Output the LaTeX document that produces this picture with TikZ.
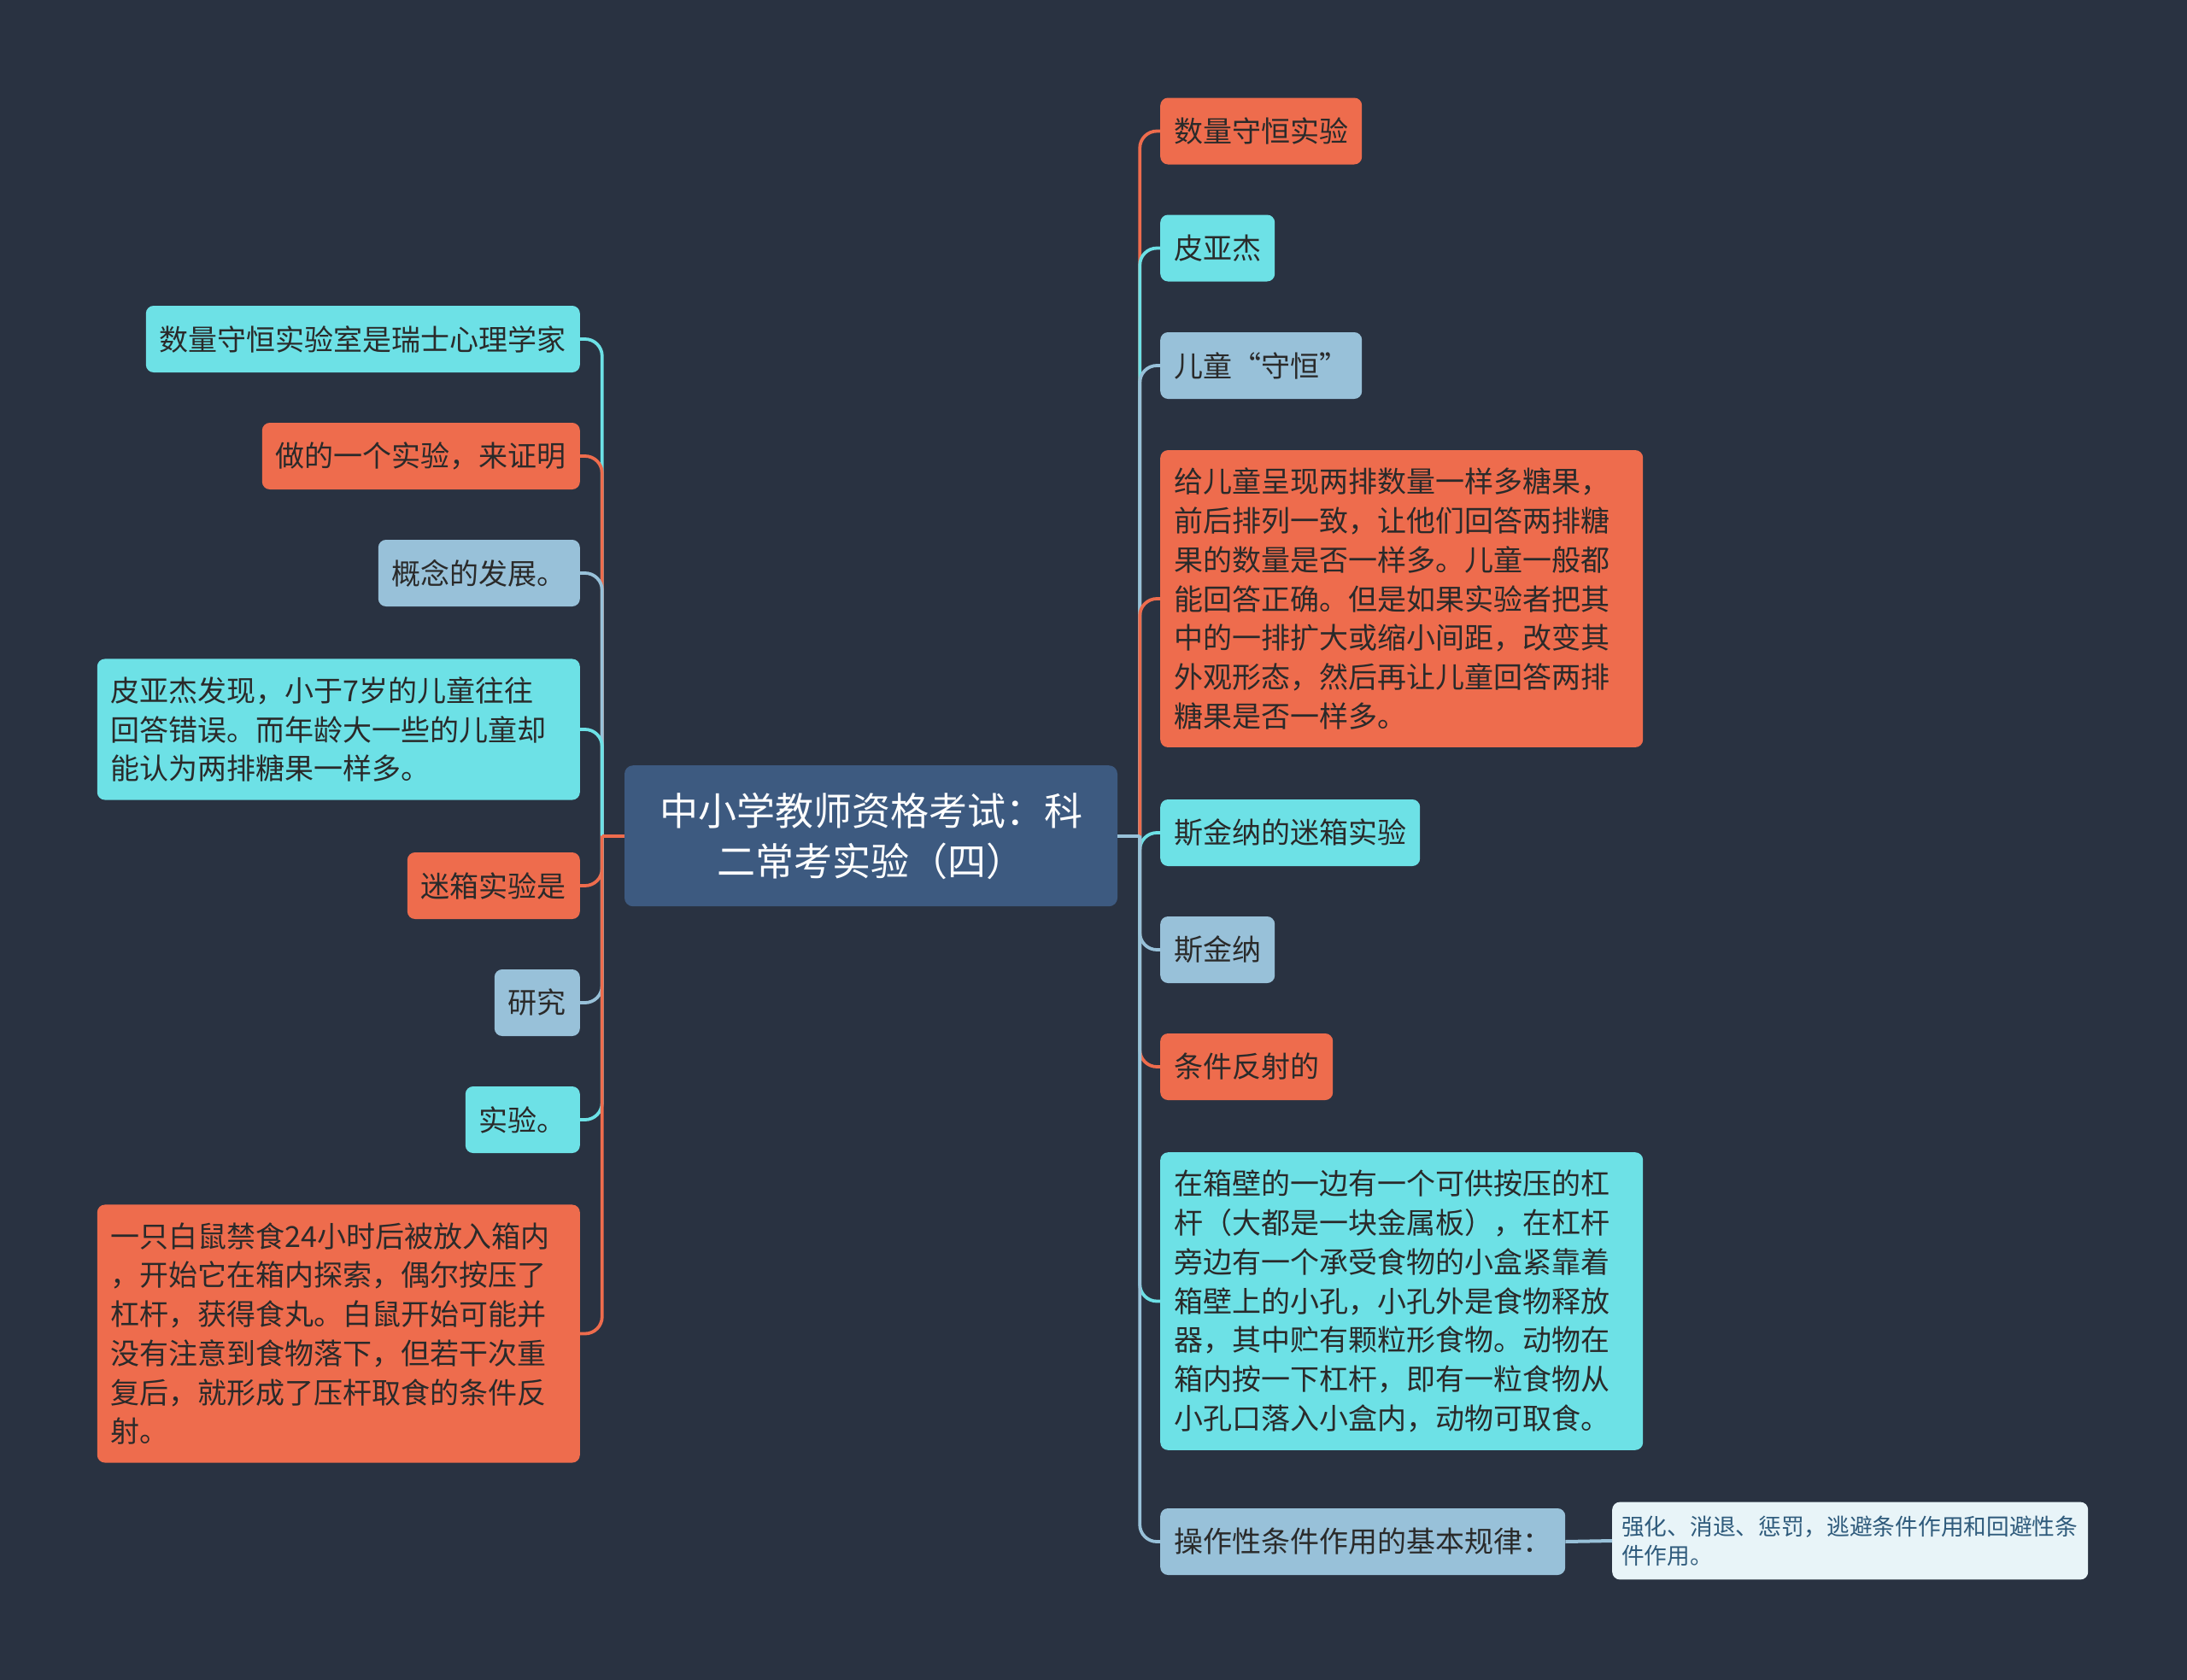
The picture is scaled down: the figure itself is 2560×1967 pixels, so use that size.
\documentclass[tikz,border=0pt]{standalone}
\usepackage{fontspec}
\newfontfamily\cjk{Noto Sans CJK SC}
\usepackage{xcolor}
\usepackage{tikz}
\usetikzlibrary{positioning}
\definecolor{bgdark}{HTML}{293241}
\definecolor{rootblue}{HTML}{3D5A80}
\definecolor{hotc}{HTML}{EE6C4D}
\definecolor{skyc}{HTML}{6DE1E6}
\definecolor{palec}{HTML}{98C1D9}
\definecolor{notec}{HTML}{E8F4F8}
\definecolor{notetext}{HTML}{2F5B7C}
\definecolor{ink}{HTML}{2A2A2A}

\begin{document}
\begin{tikzpicture}[x=1pt, y=-1pt,
    topic/.style={rectangle, rounded corners=9pt, inner xsep=16pt,
                  inner ysep=21pt, minimum height=78pt, text=ink,
                  align=left, font=\cjk\fontsize{34}{45.7}\selectfont},
    hot/.style={topic, fill=hotc},
    sky/.style={topic, fill=skyc},
    pale/.style={topic, fill=palec},
    para/.style={text width=533pt},
    link/.style={line width=3.8pt, rounded corners=20pt}]
  \fill[bgdark] (0,0) rectangle (2560,1967);
  \useasboundingbox (0,0) rectangle (2560,1967);

  \node[rectangle, rounded corners=10pt, fill=rootblue, text=white,
        minimum width=577pt, minimum height=165pt, align=center,
        font=\cjk\fontsize{45}{58.8}\selectfont] (root) at (1019.5,978.7)
        {中小学教师资格考试：科\\二常考实验（四）};
  \coordinate (rjoin) at ([xshift=26pt]root.east);
  \coordinate (ljoin) at ([xshift=-26pt]root.west);

  \node[hot, anchor=west] (r1) at (1358,153.5) {数量守恒实验};
  \node[sky, anchor=west] (r2) at (1358,290.5) {皮亚杰};
  \node[pale, anchor=west] (r3) at (1358,428) {儿童“守恒”};
  \node[hot, para, anchor=west] (r4) at (1358,701)
        {给儿童呈现两排数量一样多糖果，\\前后排列一致，让他们回答两排糖\\果的数量是否一样多。儿童一般都\\能回答正确。但是如果实验者把其\\中的一排扩大或缩小间距，改变其\\外观形态，然后再让儿童回答两排\\糖果是否一样多。};
  \node[sky, anchor=west] (r5) at (1358,975) {斯金纳的迷箱实验};
  \node[pale, anchor=west] (r6) at (1358,1112) {斯金纳};
  \node[hot, anchor=west] (r7) at (1358,1249) {条件反射的};
  \node[sky, para, anchor=west] (r8) at (1358,1523.5)
        {在箱壁的一边有一个可供按压的杠\\杆（大都是一块金属板），在杠杆\\旁边有一个承受食物的小盒紧靠着\\箱壁上的小孔，小孔外是食物释放\\器，其中贮有颗粒形食物。动物在\\箱内按一下杠杆，即有一粒食物从\\小孔口落入小盒内，动物可取食。};
  \node[pale, anchor=west] (r9) at (1358,1805) {操作性条件作用的基本规律：};
  \node[rectangle, rounded corners=9pt, fill=notec, text=notetext,
        text width=535pt, inner xsep=11pt, inner ysep=16pt, align=left,
        font=\cjk\fontsize{26.7}{34}\selectfont, anchor=west] (note)
        at (1887,1804) {强化、消退、惩罚，逃避条件作用和回避性条\\件作用。};

  \node[sky, anchor=east] (l1) at (679,397) {数量守恒实验室是瑞士心理学家};
  \node[hot, anchor=east] (l2) at (679,534) {做的一个实验，来证明};
  \node[pale, anchor=east] (l3) at (679,671) {概念的发展。};
  \node[sky, para, anchor=east] (l4) at (679,854)
        {皮亚杰发现，小于7岁的儿童往往\\回答错误。而年龄大一些的儿童却\\能认为两排糖果一样多。};
  \node[hot, anchor=east] (l5) at (679,1037) {迷箱实验是};
  \node[pale, anchor=east] (l6) at (679,1174) {研究};
  \node[sky, anchor=east] (l7) at (679,1311) {实验。};
  \node[hot, para, anchor=east] (l8) at (679,1561.5)
        {一只白鼠禁食24小时后被放入箱内\\，开始它在箱内探索，偶尔按压了\\杠杆，获得食丸。白鼠开始可能并\\没有注意到食物落下，但若干次重\\复后，就形成了压杆取食的条件反\\射。};

  \draw[link, hotc] (rjoin) |- (r1.west);
  \draw[link, skyc] (rjoin) |- (r2.west);
  \draw[link, palec] (rjoin) |- (r3.west);
  \draw[link, hotc] (rjoin) |- (r4.west);
  \draw[link, skyc] (rjoin) |- (r5.west);
  \draw[link, palec] (rjoin) |- (r6.west);
  \draw[link, hotc] (rjoin) |- (r7.west);
  \draw[link, skyc] (rjoin) |- (r8.west);
  \draw[link, palec] (rjoin) |- (r9.west);
  \draw[link, palec] (root.east) -- (rjoin);
  \draw[line width=4pt, palec] (r9.east) -- (note.west);

  \draw[link, skyc] (ljoin) |- (l1.east);
  \draw[link, hotc] (ljoin) |- (l2.east);
  \draw[link, palec] (ljoin) |- (l3.east);
  \draw[link, skyc] (ljoin) |- (l4.east);
  \draw[link, hotc] (ljoin) |- (l5.east);
  \draw[link, palec] (ljoin) |- (l6.east);
  \draw[link, skyc] (ljoin) |- (l7.east);
  \draw[link, hotc] (ljoin) |- (l8.east);
  \draw[link, hotc] (root.west) -- (ljoin);
\end{tikzpicture}
\end{document}
